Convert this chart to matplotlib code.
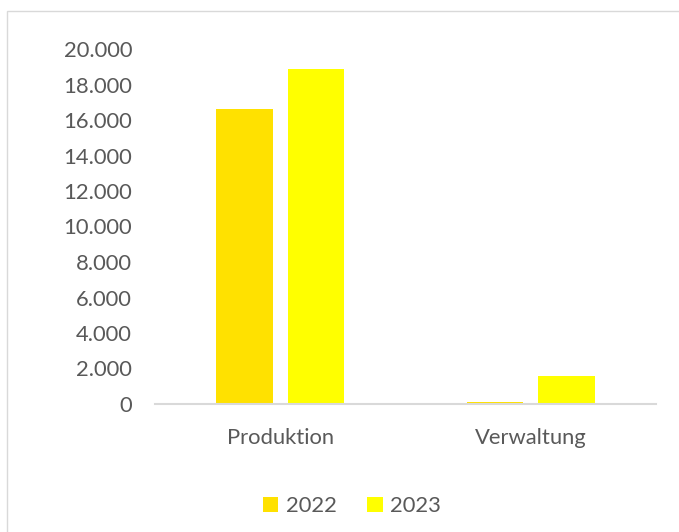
import numpy as np
import matplotlib.pyplot as plt
from matplotlib.patches import Rectangle
from matplotlib.ticker import FuncFormatter

plt.rcParams['font.family'] = ['Lato', 'DejaVu Sans']

# Werte je Bereich
bereiche = ['Produktion', 'Verwaltung']
jahre = ['2022', '2023']
werte_2022 = [16600, 120]
werte_2023 = [18900, 1600]

farben = ['#FFE100', '#FFFF00']
grau = '#595959'

W, H = 679, 532
fig = plt.figure(figsize=(W / 100, H / 100), dpi=100)

# Rahmen um das Diagramm
fig.add_artist(Rectangle((6.5 / W, -0.1), 1.2, 1 - 10.5 / H + 0.1, transform=fig.transFigure,
                         fill=False, edgecolor='#D9D9D9', linewidth=1.0))

ax = fig.add_axes([155 / W, 1 - 404 / H, (656 - 155) / W, (404 - 49) / H])

x = np.arange(len(bereiche))
breite = 0.2255
abstand = 0.143
ax.bar(x - abstand, werte_2022, breite, color=farben[0], label=jahre[0], zorder=2)
ax.bar(x + abstand, werte_2023, breite, color=farben[1], label=jahre[1], zorder=2)

ax.set_xlim(-0.5, 1.5)
ax.set_ylim(0, 20000)
ax.set_yticks(np.arange(0, 20001, 2000))
ax.yaxis.set_major_formatter(FuncFormatter(lambda v, p: f'{int(v):,}'.replace(',', '.')))
ax.set_xticks(x)
ax.set_xticklabels(bereiche)

for s in ['top', 'right', 'left']:
    ax.spines[s].set_visible(False)
ax.spines['bottom'].set_color('#D9D9D9')
ax.spines['bottom'].set_linewidth(1.5)
ax.spines['bottom'].set_zorder(3)

ax.tick_params(axis='y', length=0, pad=16.5, labelsize=15.8, labelcolor=grau)
ax.tick_params(axis='x', length=0, pad=17.5, labelsize=15.8, labelcolor=grau)

leg = fig.legend(loc='center', bbox_to_anchor=(352 / W, 1 - 506 / H), ncol=2, frameon=False,
                 fontsize=15.8, handlelength=0.7, handleheight=0.7, handletextpad=0.35,
                 columnspacing=1.4, labelcolor=grau)

fig.savefig('out.png', dpi=100)
